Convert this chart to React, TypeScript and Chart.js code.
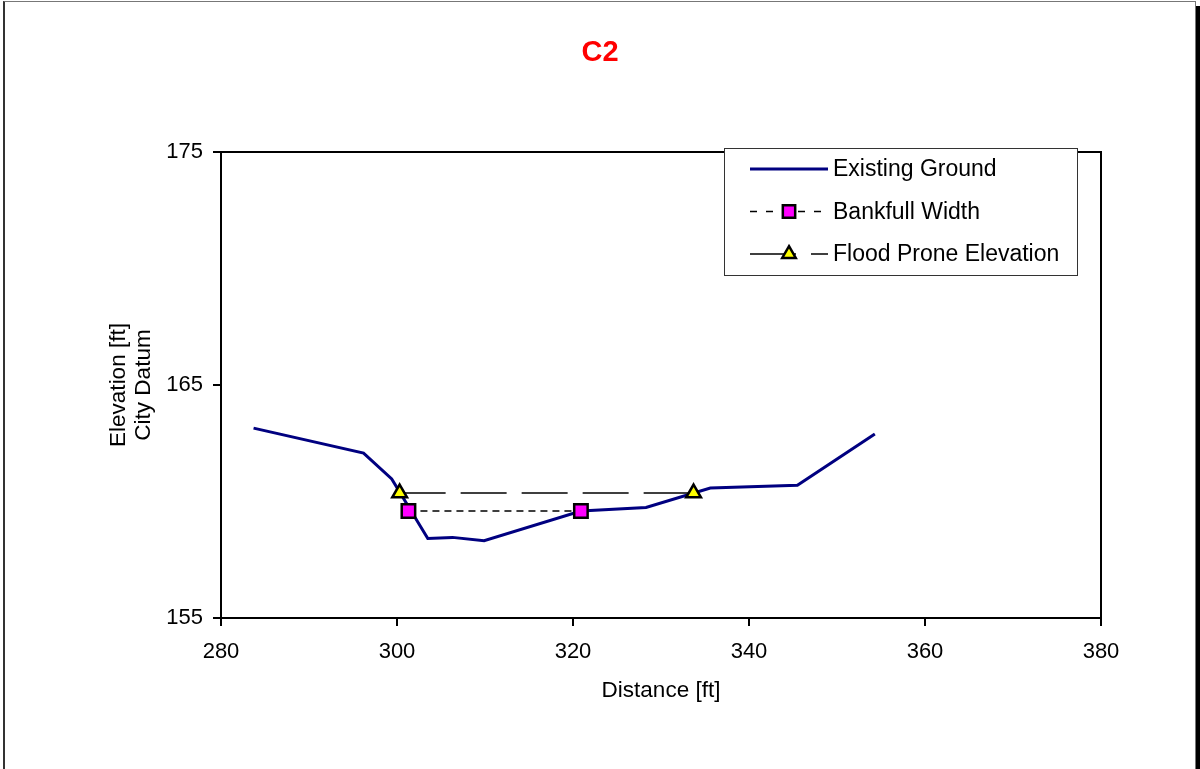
import React, { useEffect, useRef } from "react";
import { Chart, registerables } from "chart.js";

Chart.register(...registerables);

// Cross-section survey, station C2
const groundDistance = [283.7, 296.2, 299.4, 303.5, 306.3, 309.9, 320.9, 328.3, 335.6, 345.5, 354.3];
const groundElevation = [163.15, 162.08, 160.97, 158.41, 158.46, 158.32, 159.59, 159.74, 160.58, 160.7, 162.9];

const bankfullDistance = [301.3, 320.9];
const bankfullElevation = [159.59, 159.59];

const floodDistance = [300.3, 333.7];
const floodElevation = [160.36, 160.36];

const distanceTicks = [280, 300, 320, 340, 360, 380];
const elevationTicks = [155, 165, 175];

const FONT = "'Liberation Sans', Arial, sans-serif";

const toPoints = (xs: number[], ys: number[]) => xs.map((x, i) => ({ x, y: ys[i] }));

function drawMarker(ctx: CanvasRenderingContext2D, style: string, x: number, y: number, r: number, fill: string, stroke: string, lw: number) {
  ctx.save();
  ctx.beginPath();
  if (style === "rect") {
    const s = Math.SQRT1_2 * r;
    ctx.rect(x - s, y - s, 2 * s, 2 * s);
  } else if (style === "triangle") {
    ctx.moveTo(x, y - r);
    ctx.lineTo(x + r * 0.866, y + r * 0.5);
    ctx.lineTo(x - r * 0.866, y + r * 0.5);
    ctx.closePath();
  }
  ctx.fillStyle = fill;
  ctx.fill();
  ctx.lineWidth = lw;
  ctx.strokeStyle = stroke;
  ctx.setLineDash([]);
  ctx.stroke();
  ctx.restore();
}

// Plot frame drawn beneath the series
const plotFrame = {
  id: "plotFrame",
  beforeDatasetsDraw(chart: any) {
    const { ctx, chartArea: a } = chart;
    ctx.save();
    ctx.strokeStyle = "#000";
    ctx.lineWidth = 2;
    ctx.strokeRect(a.left, a.top, a.right - a.left, a.bottom - a.top);
    ctx.restore();
  },
};

// Boxed legend with line + marker samples
const sampleLegend = {
  id: "sampleLegend",
  afterDraw(chart: any) {
    const { ctx, chartArea: a } = chart;
    const left = a.right - 377;
    const top = a.top - 4;
    const w = 353;
    const h = 127;
    ctx.save();
    ctx.fillStyle = "#fff";
    ctx.fillRect(left, top, w, h);
    ctx.strokeStyle = "#333";
    ctx.lineWidth = 1;
    ctx.strokeRect(left + 0.5, top + 0.5, w, h);
    chart.data.datasets.forEach((ds: any, i: number) => {
      const y = top + 21 + i * 42.5;
      const x0 = left + 26;
      const x1 = left + 104;
      ctx.save();
      ctx.beginPath();
      const dash = ds.borderDash && ds.borderDash[0] < 10 ? [7, 9] : ds.borderDash || [];
      ctx.setLineDash(dash);
      ctx.strokeStyle = ds.borderColor;
      ctx.lineWidth = ds.borderWidth;
      ctx.moveTo(x0, y);
      ctx.lineTo(x1, y);
      ctx.stroke();
      ctx.restore();
      if (ds.pointRadius > 0) {
        drawMarker(ctx, ds.pointStyle, (x0 + x1) / 2, y, ds.pointRadius * 0.92, ds.pointBackgroundColor, ds.pointBorderColor, ds.pointBorderWidth);
      }
      ctx.fillStyle = "#000";
      ctx.font = `23px ${FONT}`;
      ctx.textAlign = "left";
      ctx.textBaseline = "middle";
      ctx.fillText(ds.label, left + 109, y + 1);
    });
    ctx.restore();
  },
};

export default function App() {
  const canvasRef = useRef<HTMLCanvasElement | null>(null);

  useEffect(() => {
    const canvas = canvasRef.current;
    if (!canvas) return;
    const chart = new Chart(canvas, {
      type: "scatter",
      data: {
        datasets: [
          {
            label: "Existing Ground",
            data: toPoints(groundDistance, groundElevation),
            showLine: true,
            borderColor: "#000080",
            backgroundColor: "#000080",
            borderWidth: 3,
            pointRadius: 0,
            order: 3,
          },
          {
            label: "Bankfull Width",
            data: toPoints(bankfullDistance, bankfullElevation),
            showLine: true,
            borderColor: "#000",
            borderWidth: 1.5,
            borderDash: [7, 5],
            pointStyle: "rect",
            pointRadius: 9.5,
            pointBackgroundColor: "#ff00ff",
            pointBorderColor: "#000",
            pointBorderWidth: 2.5,
            order: 2,
          },
          {
            label: "Flood Prone Elevation",
            data: toPoints(floodDistance, floodElevation),
            showLine: true,
            borderColor: "#000",
            borderWidth: 1.5,
            borderDash: [46, 15],
            pointStyle: "triangle",
            pointRadius: 8.5,
            pointBackgroundColor: "#ffff00",
            pointBorderColor: "#000",
            pointBorderWidth: 2.5,
            order: 1,
          },
        ] as any,
      },
      options: {
        responsive: false,
        animation: false,
        layout: { padding: 0 },
        plugins: {
          legend: { display: false },
          tooltip: { enabled: false },
          title: {
            display: true,
            text: "C2",
            color: "#ff0000",
            font: { family: FONT, size: 29, weight: "bold", lineHeight: 1.2 },
            padding: { top: 36, bottom: 81.2 },
          },
        },
        scales: {
          x: {
            type: "linear",
            position: "bottom",
            min: distanceTicks[0],
            max: distanceTicks[distanceTicks.length - 1],
            afterBuildTicks: (s: any) => {
              s.ticks = distanceTicks.map((v) => ({ value: v }));
            },
            afterFit: (s: any) => {
              s.height = 151;
            },
            ticks: { color: "#000", font: { family: FONT, size: 22 }, padding: 13, maxRotation: 0 },
            grid: { drawOnChartArea: false, drawTicks: true, tickLength: 8, color: "#000", lineWidth: 2 },
            border: { display: true, color: "#000", width: 2 },
            title: {
              display: true,
              text: "Distance [ft]",
              color: "#000",
              font: { family: FONT, size: 22.5, lineHeight: 1.15 },
              padding: { top: 0, bottom: 65 },
            },
          },
          y: {
            type: "linear",
            position: "left",
            min: elevationTicks[0],
            max: elevationTicks[elevationTicks.length - 1],
            afterBuildTicks: (s: any) => {
              s.ticks = elevationTicks.map((v) => ({ value: v }));
            },
            afterFit: (s: any) => {
              s.width = 221;
            },
            ticks: { color: "#000", font: { family: FONT, size: 22 }, padding: 10 },
            grid: { drawOnChartArea: false, drawTicks: true, tickLength: 8, color: "#000", lineWidth: 2 },
            border: { display: true, color: "#000", width: 2 },
            title: {
              display: true,
              text: ["Elevation [ft]", "City Datum"],
              color: "#000",
              font: { family: FONT, size: 22.5, lineHeight: 1.12 },
              padding: { top: 106, bottom: 0 },
            },
          },
          yRight: {
            type: "linear",
            position: "right",
            display: true,
            min: elevationTicks[0],
            max: elevationTicks[elevationTicks.length - 1],
            ticks: { display: false },
            grid: { display: false, drawTicks: false },
            border: { display: false },
            afterFit: (s: any) => {
              s.width = 99;
            },
          },
        },
      } as any,
      plugins: [plotFrame, sampleLegend],
    });
    return () => chart.destroy();
  }, []);

  return (
    <div style={{ position: "fixed", left: 0, top: 0, width: 1200, height: 769, overflow: "hidden", background: "#fff" }}>
      <div
        style={{
          position: "absolute",
          left: 3,
          top: 1,
          width: 1193,
          height: 820,
          boxSizing: "border-box",
          borderTop: "1px solid #777",
          borderLeft: "2px solid #333",
          borderRight: "1px solid #777",
        }}
      />
      <div style={{ position: "absolute", left: 1196, top: 6, width: 4, height: 763, background: "#000" }} />
      <canvas ref={canvasRef} width={1200} height={769} style={{ position: "absolute", left: 0, top: 0, width: 1200, height: 769 }} />
    </div>
  );
}
